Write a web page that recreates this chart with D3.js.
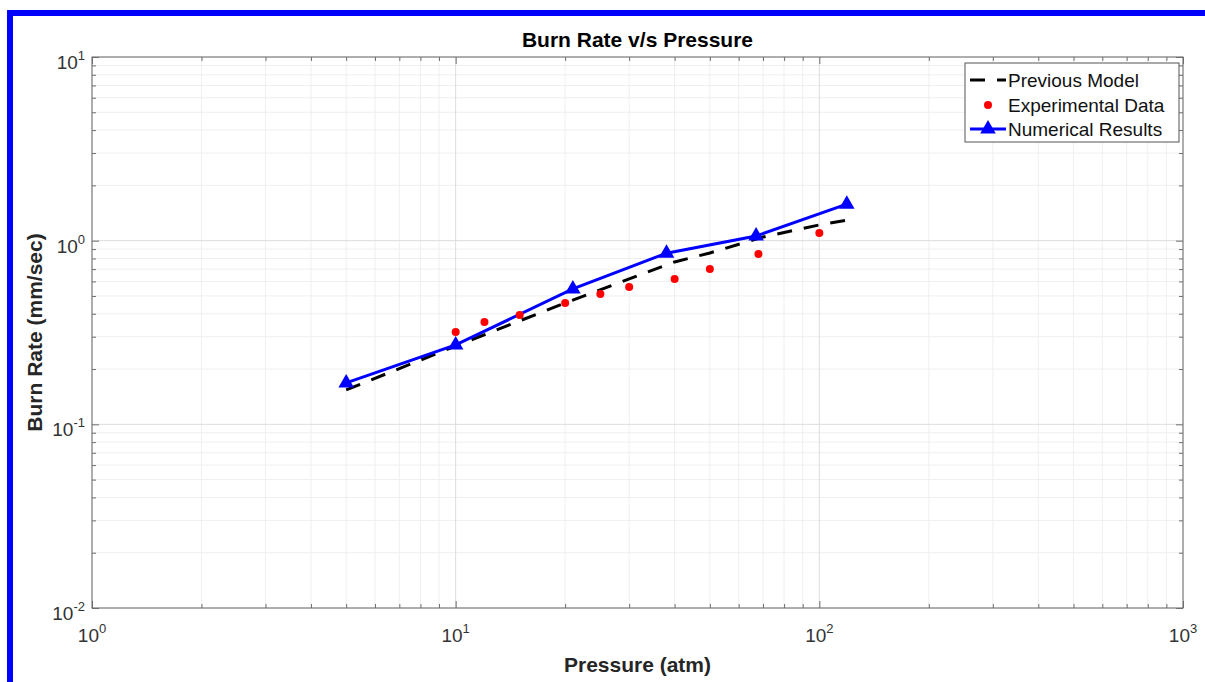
<!DOCTYPE html>
<html>
<head>
<meta charset="utf-8">
<script src="https://cdn.jsdelivr.net/npm/d3@7"></script>
<style>
    body { margin: 0; background: #fff; }
    text { font-family: "Liberation Sans", Arial, Helvetica, sans-serif; }
</style>
</head>
<body>
<script>
//page size
var w = 1205, h = 682;

//Previous Model (dashed black curve)
var modelP = [5, 10, 15, 20, 30, 40, 50, 70, 100, 120];
var modelRate = [0.154, 0.267, 0.366, 0.458, 0.619, 0.766, 0.857, 1.047, 1.218, 1.296];

//Experimental Data (red dots)
var expP = [10, 12, 15, 20, 25, 30, 40, 50, 68, 100];
var expRate = [0.318, 0.361, 0.394, 0.458, 0.513, 0.56, 0.619, 0.70, 0.846, 1.10];

//Numerical Results (blue line with triangles)
var numP = [5, 10, 21, 38, 67, 119];
var numRate = [0.168, 0.2705, 0.546, 0.855, 1.06, 1.58];

//axis ticks (decades) and their labels as 10^exp
var xMajor = [1, 10, 100, 1000];
var xExp = ["0", "1", "2", "3"];
var yMajor = [0.01, 0.1, 1, 10];
var yExp = ["-2", "-1", "0", "1"];

var legendNames = ["Previous Model", "Experimental Data", "Numerical Results"];

window.onload = function(){

    var svg = d3.select("body")
        .append("svg")
        .attr("width", w)
        .attr("height", h);

    //blue frame on top and left edge
    svg.append("rect")
        .attr("x", 7).attr("y", 10)
        .attr("width", w - 7).attr("height", 6)
        .style("fill", "#0000ff");
    svg.append("rect")
        .attr("x", 7).attr("y", 10)
        .attr("width", 6).attr("height", h - 10)
        .style("fill", "#0000ff");

    //plot box
    var left = 92, right = 1183, top = 57, bottom = 608;

    var x = d3.scaleLog().domain([1, 1000]).range([left, right]);
    var y = d3.scaleLog().domain([0.01, 10]).range([bottom, top]);

    //minor values 2..9 in every decade
    var xMinor = [], yMinor = [];
    xMajor.slice(0, -1).forEach(function(d){
        for (var k = 2; k < 10; k++) xMinor.push(d * k);
    });
    yMajor.slice(0, -1).forEach(function(d){
        for (var k = 2; k < 10; k++) yMinor.push(d * k);
    });

    //grid lines
    var grid = svg.append("g").attr("class", "grid");
    grid.selectAll(".xminor").data(xMinor).enter().append("line")
        .attr("x1", function(d){ return x(d); }).attr("x2", function(d){ return x(d); })
        .attr("y1", top).attr("y2", bottom)
        .style("stroke", "#efefef");
    grid.selectAll(".yminor").data(yMinor).enter().append("line")
        .attr("y1", function(d){ return y(d); }).attr("y2", function(d){ return y(d); })
        .attr("x1", left).attr("x2", right)
        .style("stroke", "#efefef");
    grid.selectAll(".xmajor").data(xMajor).enter().append("line")
        .attr("x1", function(d){ return x(d); }).attr("x2", function(d){ return x(d); })
        .attr("y1", top).attr("y2", bottom)
        .style("stroke", "#dcdcdc");
    grid.selectAll(".ymajor").data(yMajor).enter().append("line")
        .attr("y1", function(d){ return y(d); }).attr("y2", function(d){ return y(d); })
        .attr("x1", left).attr("x2", right)
        .style("stroke", "#dcdcdc");

    //ticks pointing inward on all four sides
    function ticks(axisFn, scale, values, size, tr){
        var g = svg.append("g")
            .attr("transform", tr)
            .call(axisFn(scale).tickValues(values).tickSize(-size).tickSizeOuter(0).tickFormat(""));
        g.select(".domain").remove();
        g.selectAll("line").style("stroke", "#6e6e6e");
    }
    ticks(d3.axisBottom, x, xMajor, 7, "translate(0," + bottom + ")");
    ticks(d3.axisBottom, x, xMinor, 4, "translate(0," + bottom + ")");
    ticks(d3.axisTop, x, xMajor, 7, "translate(0," + top + ")");
    ticks(d3.axisTop, x, xMinor, 4, "translate(0," + top + ")");
    ticks(d3.axisLeft, y, yMajor, 7, "translate(" + left + ",0)");
    ticks(d3.axisLeft, y, yMinor, 4, "translate(" + left + ",0)");
    ticks(d3.axisRight, y, yMajor, 7, "translate(" + right + ",0)");
    ticks(d3.axisRight, y, yMinor, 4, "translate(" + right + ",0)");

    //box
    svg.append("rect")
        .attr("x", left).attr("y", top)
        .attr("width", right - left).attr("height", bottom - top)
        .style("fill", "none")
        .style("stroke", "#6e6e6e");

    //tick labels 10^n
    var xLab = svg.selectAll(".xlab").data(xMajor).enter().append("text")
        .attr("class", "xlab")
        .attr("x", function(d){ return x(d); })
        .attr("y", bottom + 34)
        .attr("text-anchor", "middle")
        .style("font-size", "19px")
        .style("fill", "#333");
    xLab.append("tspan").text("10");
    xLab.append("tspan").attr("dy", -9).style("font-size", "13px")
        .text(function(d, i){ return xExp[i]; });

    var yLab = svg.selectAll(".ylab").data(yMajor).enter().append("text")
        .attr("class", "ylab")
        .attr("x", left - 7)
        .attr("y", function(d){ return y(d) + 12; })
        .attr("text-anchor", "end")
        .style("font-size", "19px")
        .style("fill", "#333");
    yLab.append("tspan").text("10");
    yLab.append("tspan").attr("dy", -9).style("font-size", "13px")
        .text(function(d, i){ return yExp[i]; });

    //titles
    svg.append("text")
        .attr("x", (left + right) / 2).attr("y", 47)
        .attr("text-anchor", "middle")
        .style("font-size", "21px").style("font-weight", "bold")
        .text("Burn Rate v/s Pressure");
    svg.append("text")
        .attr("x", (left + right) / 2).attr("y", 672)
        .attr("text-anchor", "middle")
        .style("font-size", "21px").style("font-weight", "bold")
        .style("fill", "#262626")
        .text("Pressure (atm)");
    svg.append("text")
        .attr("transform", "translate(42," + (top + bottom) / 2 + ") rotate(-90)")
        .attr("text-anchor", "middle")
        .style("font-size", "21px").style("font-weight", "bold")
        .style("fill", "#262626")
        .text("Burn Rate (mm/sec)");

    var line = d3.line()
        .x(function(d){ return x(d[0]); })
        .y(function(d){ return y(d[1]); });

    //previous model
    svg.append("path")
        .datum(d3.zip(modelP, modelRate))
        .attr("d", line)
        .style("fill", "none")
        .style("stroke", "#000")
        .style("stroke-width", 3)
        .style("stroke-dasharray", "15,12");

    //numerical results
    var numData = d3.zip(numP, numRate);
    svg.append("path")
        .datum(numData)
        .attr("d", line)
        .style("fill", "none")
        .style("stroke", "#0000ff")
        .style("stroke-width", 3);

    var tri = d3.symbol().type(d3.symbolTriangle).size(105);
    svg.selectAll(".tri").data(numData).enter().append("path")
        .attr("class", "tri")
        .attr("d", tri)
        .attr("transform", function(d){ return "translate(" + x(d[0]) + "," + y(d[1]) + ")"; })
        .style("fill", "#0000ff");

    //experimental data
    svg.selectAll(".dot").data(d3.zip(expP, expRate)).enter().append("circle")
        .attr("class", "dot")
        .attr("cx", function(d){ return x(d[0]); })
        .attr("cy", function(d){ return y(d[1]); })
        .attr("r", 4)
        .style("fill", "#ff0000");

    //legend
    var lg = svg.append("g").attr("class", "legend");
    lg.append("rect")
        .attr("x", 965).attr("y", 63)
        .attr("width", 214).attr("height", 79)
        .style("fill", "#fff")
        .style("stroke", "#555");

    var rowY = [80, 105, 129];
    lg.append("line")
        .attr("x1", 970).attr("x2", 1006).attr("y1", rowY[0]).attr("y2", rowY[0])
        .style("stroke", "#000").style("stroke-width", 3)
        .style("stroke-dasharray", "15,12");
    lg.append("circle")
        .attr("cx", 988).attr("cy", rowY[1]).attr("r", 4)
        .style("fill", "#ff0000");
    lg.append("line")
        .attr("x1", 970).attr("x2", 1006).attr("y1", rowY[2]).attr("y2", rowY[2])
        .style("stroke", "#0000ff").style("stroke-width", 3);
    lg.append("path")
        .attr("d", tri)
        .attr("transform", "translate(988," + rowY[2] + ")")
        .style("fill", "#0000ff");

    lg.selectAll(".ltext").data(legendNames).enter().append("text")
        .attr("class", "ltext")
        .attr("x", 1008)
        .attr("y", function(d, i){ return rowY[i] + 7; })
        .style("font-size", "19px")
        .style("fill", "#111")
        .text(function(d){ return d; });
};
</script>
</body>
</html>
